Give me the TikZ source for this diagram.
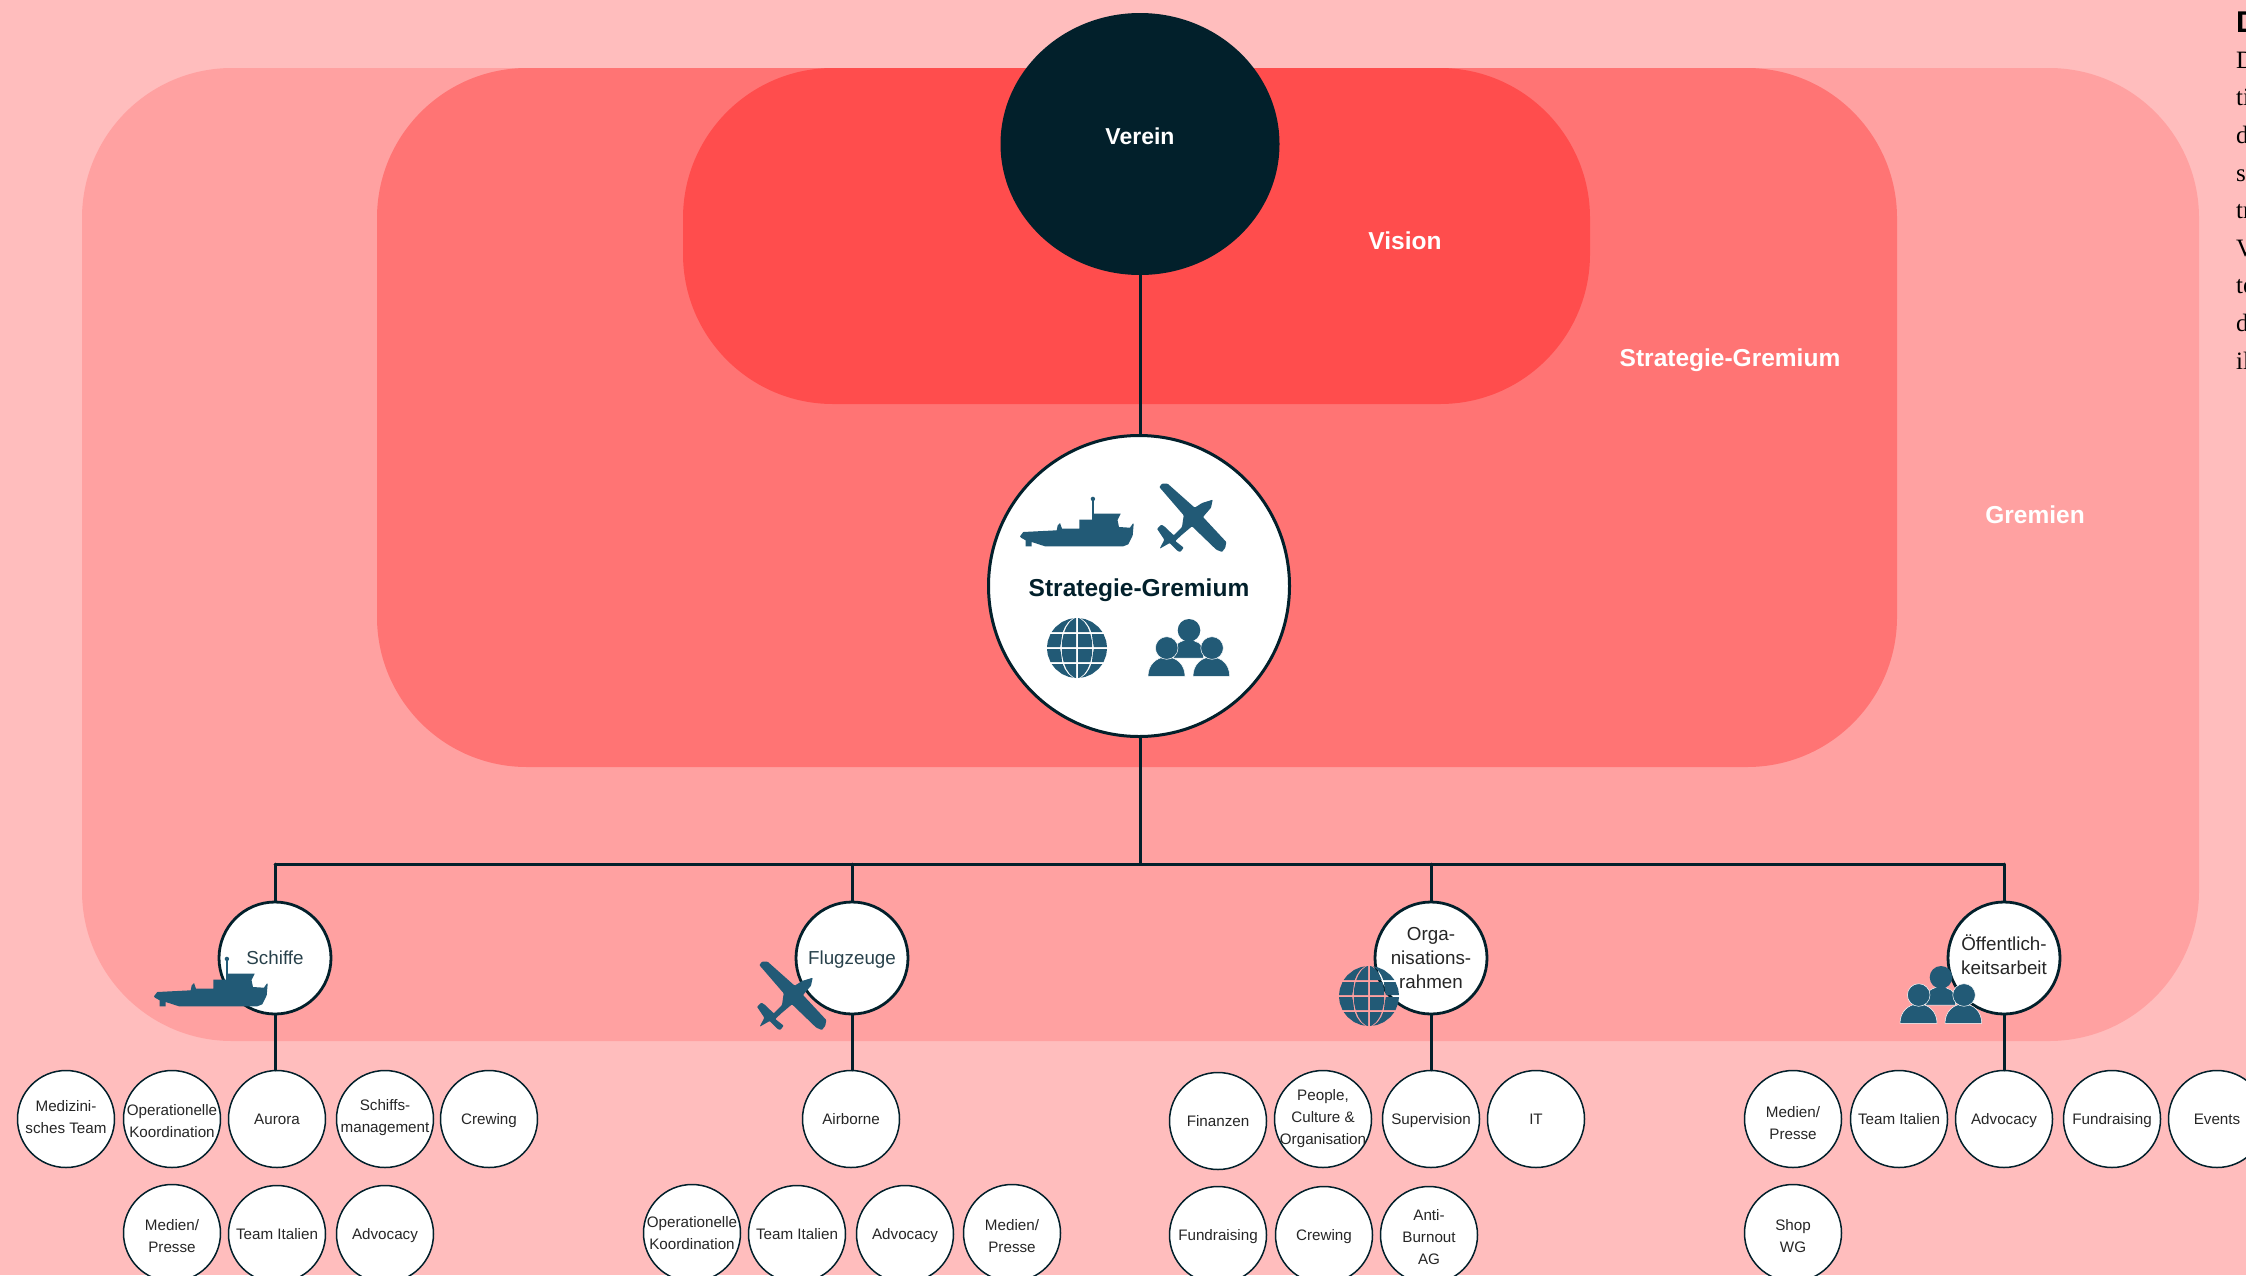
\documentclass[tikz,border=0pt]{standalone}
\usepackage{fontspec}
\setmainfont{Liberation Sans}
\newfontfamily\bodyserif{Liberation Serif}
\usetikzlibrary{shapes.geometric}
\definecolor{rosebg}{rgb}{1.,0.741,0.741}
\definecolor{gremienred}{rgb}{1.,0.631,0.631}
\definecolor{strategred}{rgb}{1.,0.455,0.455}
\definecolor{visionred}{rgb}{1.,0.302,0.302}
\definecolor{navyline}{rgb}{0.008,0.125,0.169}
\definecolor{iconblue}{rgb}{0.133,0.353,0.463}
\newcommand{\topgap}[1]{\rule{0pt}{#1pt}}
\newcommand{\botgap}[1]{\rule[-#1pt]{0pt}{0pt}}
\tikzset{
toplabel/.style={text=white,font=\fontsize{24.5}{30}\selectfont\bfseries},
branch/.style={circle,draw=navyline,line width=2.8pt,fill=white,minimum size=112pt,inner sep=-8pt,align=center,text=navyline!85!white,font=\fontsize{18.8}{24}\selectfont},
leaf/.style={circle,draw=navyline,line width=1.5pt,fill=white,minimum size=97pt,inner sep=-10pt,align=center,text=black!85,font=\fontsize{15.2}{22}\selectfont},
oneline/.style={text height=11pt,text depth=0pt},
stem/.style={draw=navyline,line width=3pt},
shipicon/.pic={
\fill[iconblue] (0,39.3)--(3.3,35)--(36.7,33.3)--(37.7,28.3)--(40,26)--(42,31.7)--(59.3,31.7)--(59.3,22.7)--(72,22.7)--(72,16.7)--(100.7,16.7)--(97.5,23)--(99,30)--(110,30.7)--(112.7,26.7)--(113.7,26.7)--(112.7,38.3)--(108.3,47.3)--(103.3,49.3)--(25,49.3)--(11.7,45)--(11.7,49.3)--(5.7,49.3)--(5.7,43.3)--(1,40.7)--cycle;
\fill[iconblue] (72,3.5) rectangle (74,17);
\fill[iconblue] (72.9,1.9) circle (2.2pt);
},
planeicon/.pic={
\fill[iconblue,rounded corners=0.8pt] (2.3,4)--(5,.7)--(10.7,.7)--(37.7,24.7)--(45,20)--(55.7,16.7)--(54,24.7)--(46,34)--(69.3,59)--(68.3,64.7)--(65,69)--(59.3,66.7)--(35,43.3)--(24.3,52.3)--(18.3,58)--(26.7,64.7)--(23.3,69)--(20.7,68)--(12.7,60)--(2.7,65.7)--(7.3,56.7)--(0,45.7)--(4.3,41.7)--(7.3,43.3)--(16.7,52.3)--(25,44)--(26.7,32.3)--cycle;
},
globeicon/.pic={
\foreach \sx/\sy in {1/1,-1/1,1/-1,-1/-1}{
\begin{scope}[xscale=\sx,yscale=\sy]
\fill[iconblue] (1,1)--(15.2,1)--(14.9,7)--(13.4,14)--(1,14)--cycle;
\fill[iconblue] (16.8,1)--(30,1)--(29.2,7)--(26.5,14)--(14.9,14)--(15.7,7)--cycle;
\fill[iconblue] (1,16)--(12.7,16)--(10.6,21)--(7.2,26)--(3,29.5)--(1,30)--cycle;
\fill[iconblue] (14.3,16)--(25.4,16)--(21.4,21)--(15,26)--(8.4,28.8)--(4,29.7)--(5.3,28.8)--(8.8,26)--(12.2,21)--cycle;
\end{scope}
}
},
peopleicon/.pic={
%back person
\fill[iconblue,draw=white,line width=.5pt] (25.7,39)--(25.7,33) .. controls (25.7,25) and (33,21) .. (40.7,21) .. controls (48,21) and (55.7,25) .. (55.7,33)--(55.7,39)--cycle;
\fill[iconblue] (41,11.3) circle (11.3pt);
%left person
\fill[iconblue,draw=white,line width=.5pt] (0,57.3) .. controls (0,46) and (8,38) .. (18.5,38) .. controls (29,38) and (37,46) .. (37,57.3)--cycle;
\fill[iconblue,draw=white,line width=.5pt] (18.7,29) circle (11.3pt);
%right person
\fill[iconblue,draw=white,line width=.5pt] (45,57.3) .. controls (45,46) and (53,38) .. (63.3,38) .. controls (74,38) and (81.7,46) .. (81.7,57.3)--cycle;
\fill[iconblue,draw=white,line width=.5pt] (64,29) circle (11.3pt);
}
}
\begin{document}
\begin{tikzpicture}[line cap=round,line join=round,x=1pt,y=-1pt]
\clip (0,0) rectangle (2246,1275);
\fill[rosebg] (0,0) rectangle (2246,1275);
\fill[gremienred,rounded corners=150pt] (82,68) rectangle (2199,1041);
\fill[strategred,rounded corners=150pt] (377,68) rectangle (1897,767);
\fill[visionred,rounded corners=150pt] (683,68) rectangle (1590,404);
%labels on the fields
\node[toplabel] (visionlabel) at (1405,241) {Vision};
\node[toplabel] (strategielabel) at (1730,360) {Strategie-Gremium};
\node[toplabel] (gremienlabel) at (2035,515) {Gremien};
%top of the tree
\node[ellipse,fill=navyline,minimum width=279pt,minimum height=262pt,inner sep=0pt,toplabel] (verein) at (1140,144) {\raisebox{16pt}{\fontsize{23}{30}\selectfont Verein}};
\node[circle,draw=navyline,line width=3pt,fill=white,minimum size=301pt,inner sep=0pt,text=navyline,font=\fontsize{24.5}{30}\selectfont\bfseries] (strategie) at (1139,586) {\topgap{26}Strategie-Gremium};
\coordinate (barmid) at (1140,864);
\draw[stem] (verein.south) -- (verein.south |- strategie.north);
%branches
\node[branch] (schiffe) at (275,958) {Schiffe};
\node[branch,text height=13.5pt,text depth=0pt] (flugzeuge) at (852,958) {Flugzeuge};
\node[branch,text=black!85] (orga) at (1431,958) {Orga-\\nisations-\\rahmen};
\node[branch,text=black!85] (oeffentlich) at (2004,958) {Öffentlich-\\keitsarbeit\botgap{6}};
\draw[stem] (barmid |- strategie.south) -- (barmid);
\draw[stem] (schiffe.north |- barmid) -- (oeffentlich.north |- barmid);
\draw[stem] (schiffe.north) -- (schiffe.north |- barmid);
\draw[stem] (flugzeuge.north) -- (flugzeuge.north |- barmid);
\draw[stem] (orga.north) -- (orga.north |- barmid);
\draw[stem] (oeffentlich.north) -- (oeffentlich.north |- barmid);
%leaves of Schiffe
\node[leaf] (medizin) at (66,1119) {Medizini-\\sches Team\botgap{5}};
\node[leaf] (opkoord) at (172,1119) {\topgap{16}Operationelle\\Koordination};
\node[leaf,oneline] (aurora) at (277,1119) {Aurora};
\node[leaf] (schiffsman) at (385,1119) {Schiffs-\\management\botgap{7}};
\node[leaf,oneline] (crewing) at (489,1119) {Crewing};
\node[leaf] (medien) at (172,1233) {\topgap{18}Medien/\\Presse};
\node[leaf,oneline] (italien) at (277,1234) {Team Italien};
\node[leaf,oneline] (advocacy) at (385,1234) {Advocacy};
%leaves of Flugzeuge
\node[leaf,oneline] (airborne) at (851,1119) {Airborne};
\node[leaf] (opkoordb) at (692,1233) {Operationelle\\Koordination};
\node[leaf,oneline] (italienb) at (797,1234) {Team Italien};
\node[leaf,oneline] (advocacyb) at (905,1234) {Advocacy};
\node[leaf] (medienb) at (1012,1233) {\topgap{18}Medien/\\Presse};
%leaves of Organisationsrahmen
\node[leaf,oneline] (finanzen) at (1218,1121) {Finanzen};
\node[leaf] (people) at (1323,1119) {People,\\Culture \&\\Organisation\botgap{5}};
\node[leaf,oneline] (supervision) at (1431,1119) {Supervision};
\node[leaf,oneline] (itteam) at (1536,1119) {IT};
\node[leaf,oneline] (fundraising) at (1218,1235) {Fundraising};
\node[leaf,oneline] (crewingb) at (1324,1235) {Crewing};
\node[leaf] (antiburnout) at (1429,1235) {\topgap{15}Anti-\\Burnout\\AG};
%leaves of Oeffentlichkeitsarbeit
\node[leaf] (medienc) at (1793,1119) {\topgap{19}Medien/\\Presse};
\node[leaf,oneline] (italienc) at (1899,1119) {Team Italien};
\node[leaf,oneline] (advocacyc) at (2004,1119) {Advocacy};
\node[leaf,oneline] (fundraisingb) at (2112,1119) {Fundraising};
\node[leaf,oneline] (events) at (2217,1119) {Events};
\node[leaf] (shop) at (1793,1233) {\topgap{17}Shop\\WG};
\draw[stem] (schiffe.south) -- (schiffe.south |- aurora.north);
\draw[stem] (flugzeuge.south) -- (flugzeuge.south |- airborne.north);
\draw[stem] (orga) -- (supervision);
\draw[stem] (oeffentlich) -- (advocacyc);
%icons
\pic at (1020,497) {shipicon};
\pic at (1157,483) {planeicon};
\pic at (1077,648) {globeicon};
\pic at (1148,619) {peopleicon};
\pic at (154,957) {shipicon};
\pic at (757,961) {planeicon};
\pic at (1369,996) {globeicon};
\pic at (1900,966) {peopleicon};
%text running off the page
\node[anchor=base west,inner sep=0pt,font=\fontsize{30}{30}\selectfont\bfseries] (headline) at (2236,32) {D};
\foreach \y/\t in {68/D,105/ti,143/d,181/s,218/tr,256/V,293/te,331/d,369/il}{
\node[anchor=base west,inner sep=0pt,font=\bodyserif\fontsize{25}{30}\selectfont] (line\y) at (2236,\y) {\t};
}
\end{tikzpicture}
\end{document}
